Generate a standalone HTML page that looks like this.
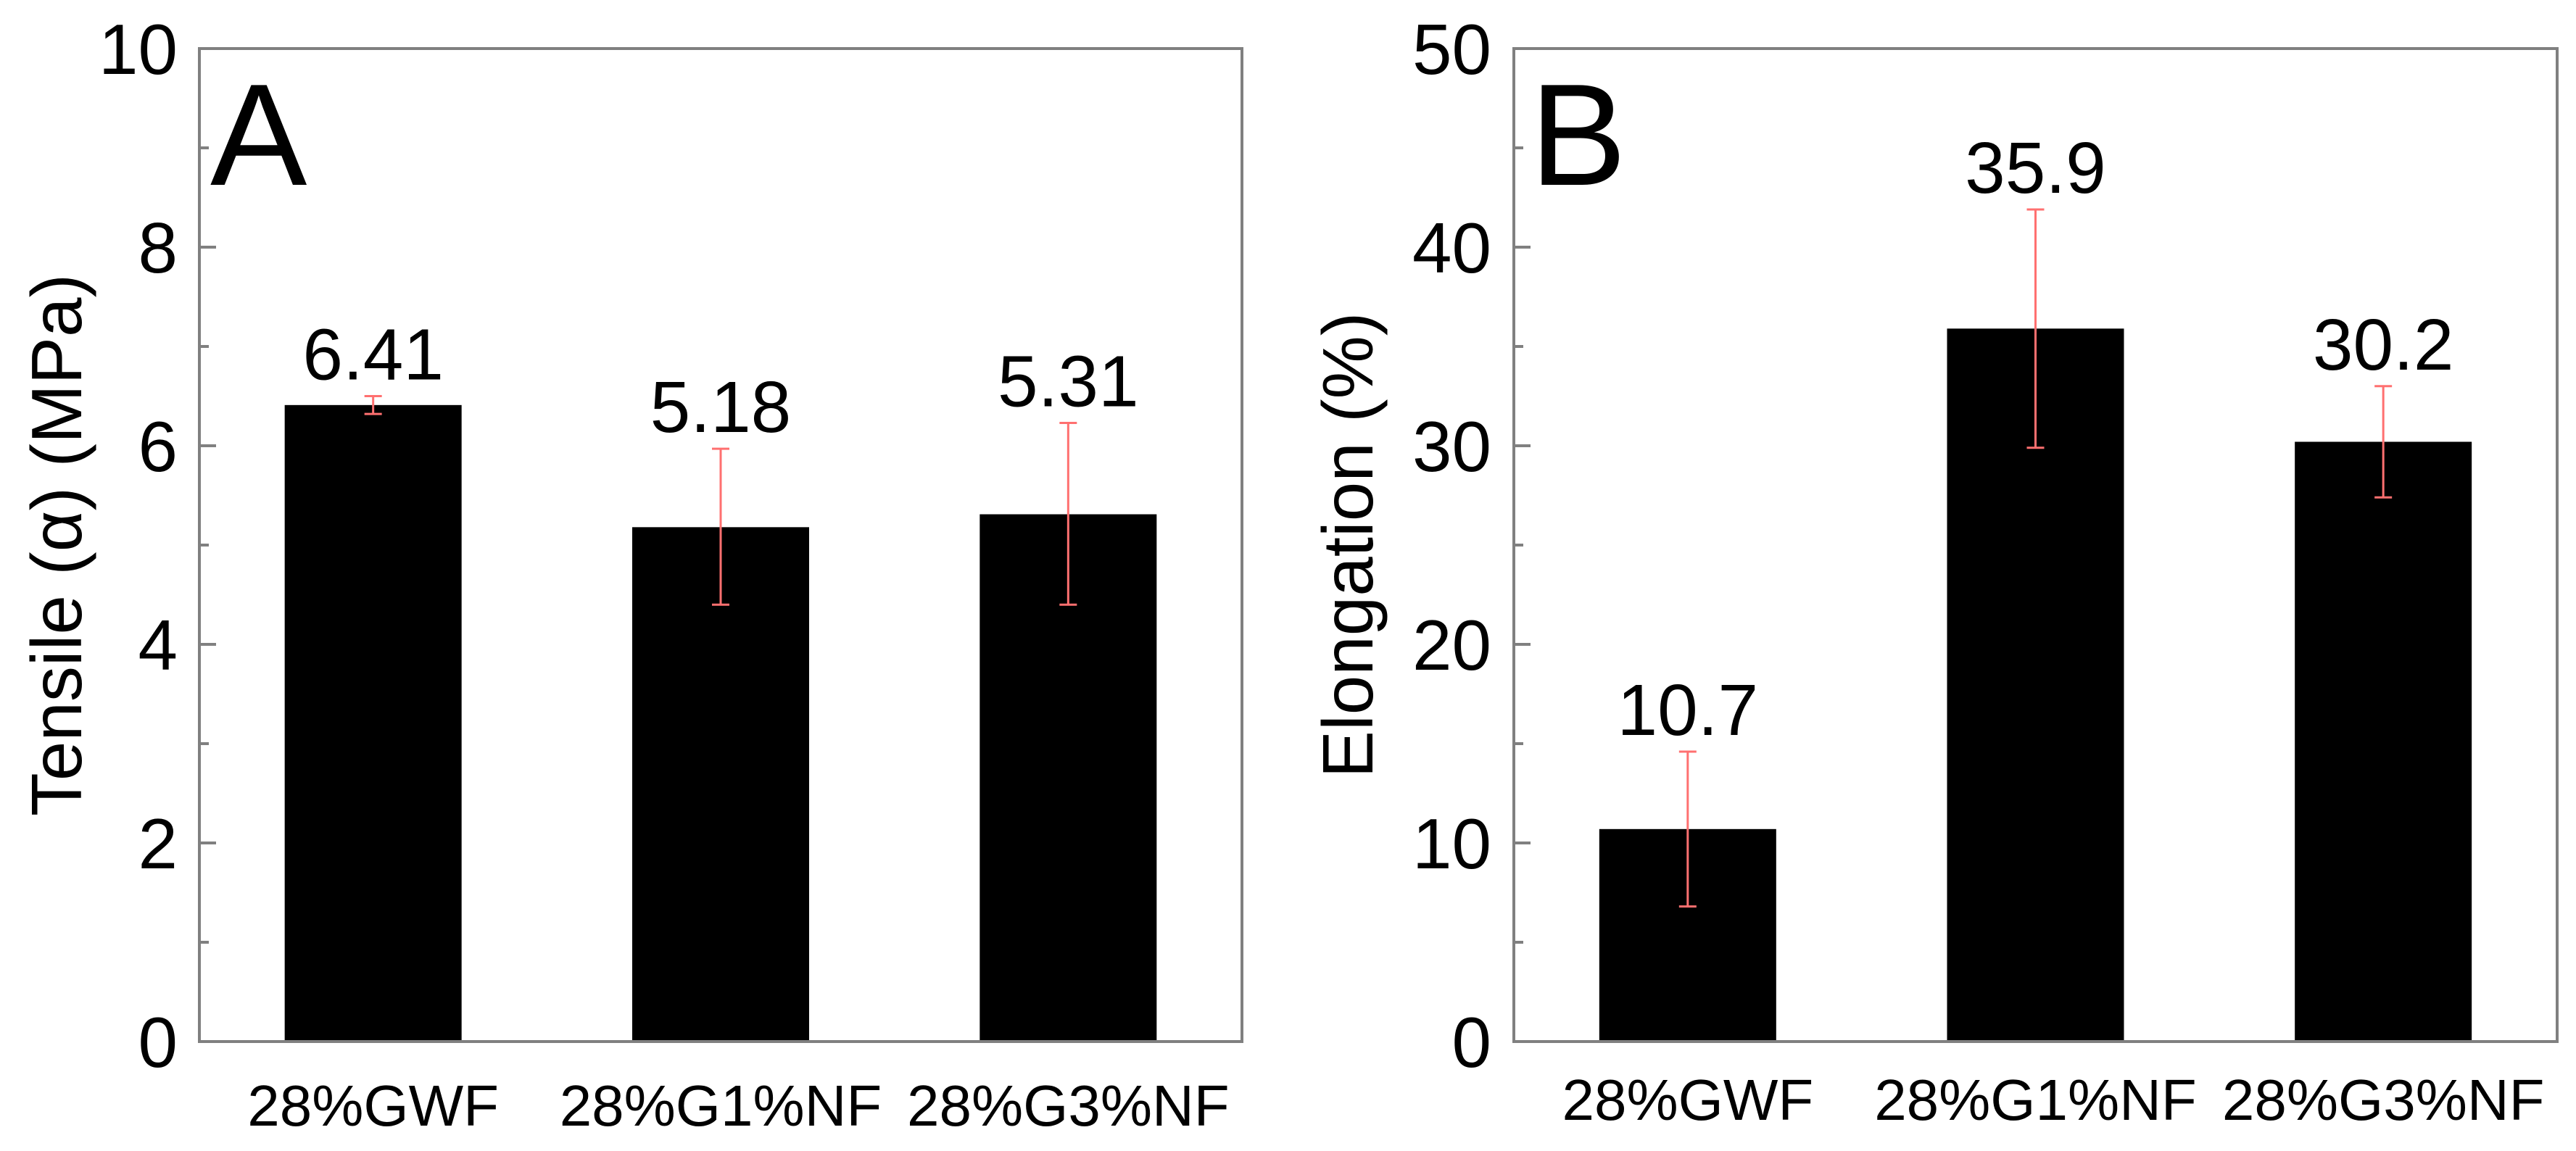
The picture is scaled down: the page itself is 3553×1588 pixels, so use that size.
<!DOCTYPE html>
<html><head><meta charset="utf-8"><style>
html,body{margin:0;padding:0;background:#fff;}
svg{display:block;font-family:"Liberation Sans",Arial,sans-serif;}
</style></head><body>
<svg id="chart" width="3553" height="1588" viewBox="0 0 3553 1588" xmlns="http://www.w3.org/2000/svg"></svg>
<script>
const categories = ["28%GWF", "28%G1%NF", "28%G3%NF"];
const tensileValues = [6.41, 5.18, 5.31];
const tensileErrHigh = [6.50, 5.97, 6.23];
const tensileErrLow = [6.32, 4.40, 4.40];
const tensileLabels = ["6.41", "5.18", "5.31"];
const tensileTicks = [0, 2, 4, 6, 8, 10];
const elongValues = [10.7, 35.9, 30.2];
const elongErrHigh = [14.6, 41.9, 33.0];
const elongErrLow = [6.8, 29.9, 27.4];
const elongLabels = ["10.7", "35.9", "30.2"];
const elongTicks = [0, 10, 20, 30, 40, 50];

const NS = "http://www.w3.org/2000/svg";
const svg = document.getElementById("chart");
function mk(tag, attrs, parent, text) {
  const e = document.createElementNS(NS, tag);
  for (const k in attrs) e.setAttribute(k, attrs[k]);
  if (text !== undefined) e.textContent = text;
  (parent || svg).appendChild(e);
  return e;
}

function panel(cfg) {
  const g = mk("g", {});
  
  
  const x0 = cfg.left, x1 = cfg.right, yTop = 67, yBot = 1437;
  const ymax = cfg.ticks[cfg.ticks.length - 1];
  const yS = v => yBot - v / ymax * (yBot - yTop);
  const slot = (x1 - x0) / categories.length;
  const xS = i => x0 + slot * (i + 0.5);
  const bw = 244;

  // bars
  cfg.values.forEach((v, i) => {
    const r = mk("rect", {x: xS(i) - bw / 2, y: yS(v), width: bw, height: yBot - yS(v), fill: "#000"}, g);
    
    
  });
  // error bars
  cfg.values.forEach((v, i) => {
    const eg = mk("g", {stroke: "#ff7070", "stroke-width": 3, fill: "none"}, g);
    
    
    const cx = xS(i);
    mk("line", {x1: cx, x2: cx, y1: yS(cfg.hi[i]), y2: yS(cfg.lo[i])}, eg);
    mk("line", {x1: cx - 12, x2: cx + 12, y1: yS(cfg.hi[i]), y2: yS(cfg.hi[i])}, eg);
    mk("line", {x1: cx - 12, x2: cx + 12, y1: yS(cfg.lo[i]), y2: yS(cfg.lo[i])}, eg);
    const t = mk("text", {x: cx, y: yS(cfg.hi[i]) - 23, "font-size": 100, "text-anchor": "middle", fill: "#000"}, g, cfg.labels[i]);
    
    
  });
  // frame
  const f = mk("rect", {x: x0, y: yTop, width: x1 - x0, height: yBot - yTop, fill: "none", stroke: "#808080", "stroke-width": 4}, g);
  
  
  // ticks
  cfg.ticks.forEach((t, k) => {
    const y = yS(t);
    mk("line", {x1: x0, x2: x0 + 23, y1: y, y2: y, stroke: "#808080", "stroke-width": 4}, g);
    const lab = mk("text", {x: cfg.tickRight, y: y + 35, "font-size": 98, "text-anchor": "end", fill: "#000"}, g, String(t));
    
    
    if (k < cfg.ticks.length - 1) {
      const ym = yS((t + cfg.ticks[k + 1]) / 2);
      mk("line", {x1: x0, x2: x0 + 13, y1: ym, y2: ym, stroke: "#808080", "stroke-width": 4}, g);
    }
  });
  // x labels
  categories.forEach((c, i) => {
    const t = mk("text", {x: xS(i), y: cfg.xLabelY, "font-size": 80, "text-anchor": "middle", fill: "#000"}, g, c);
    
    
  });
  // y title
  const yc = (yTop + yBot) / 2;
  const tt = mk("text", {x: cfg.titleX, y: yc, "font-size": 98, "text-anchor": "middle", fill: "#000", transform: `rotate(-90 ${cfg.titleX} ${yc})`}, g, cfg.title);
  
  
  // panel letter
  const pl = mk("text", {x: cfg.letterX, y: 255, "font-size": 200, fill: "#000"}, g, cfg.letter);
  
  
}

panel({name: "panel-a-tensile", left: 275, right: 1713, ticks: tensileTicks, values: tensileValues,
  hi: tensileErrHigh, lo: tensileErrLow, labels: tensileLabels, tickRight: 245, xLabelY: 1553,
  title: "Tensile (\u03B1) (MPa)", titleX: 112, letter: "A", letterX: 290});
panel({name: "panel-b-elongation", left: 2088, right: 3527, ticks: elongTicks, values: elongValues,
  hi: elongErrHigh, lo: elongErrLow, labels: elongLabels, tickRight: 2057, xLabelY: 1545,
  title: "Elongation (%)", titleX: 1893, letter: "B", letterX: 2110});
</script>
</body></html>
